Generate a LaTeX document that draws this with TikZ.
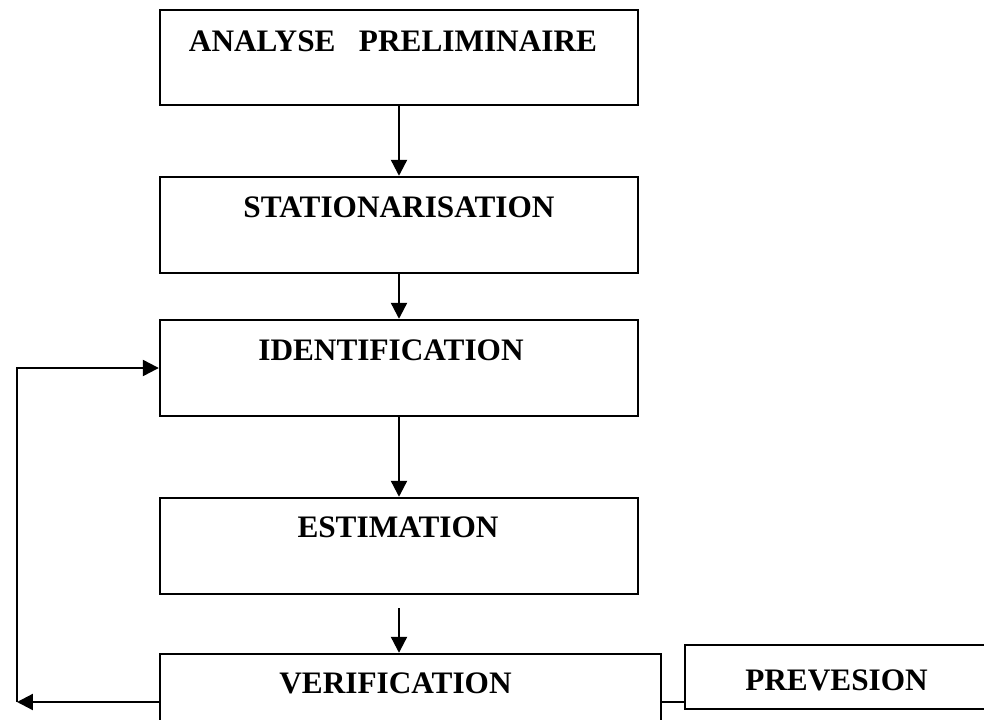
\documentclass[tikz,border=0pt]{standalone}
\usepackage{fontspec}
\setmainfont{Liberation Serif}
\usetikzlibrary{arrows.meta,calc}

\begin{document}
\begin{tikzpicture}[x=0.02cm,y=-0.02cm,
	etape/.style={draw=black, line width=1.4pt, rectangle, inner sep=0pt, minimum width=9.56cm, minimum height=1.92cm},
	titre/.style={anchor=base, inner sep=0pt, font=\fontsize{17.8}{20}\selectfont\bfseries},
	fleche/.style={line width=1.3pt, -{Triangle[length=0.32cm,width=0.32cm]}},
	trait/.style={line width=1.3pt}]
	\useasboundingbox (0,0) rectangle (984,720);
	\clip (0,0) rectangle (984,720);
	
	%blocks
	\node[etape, minimum height=1.9cm] (b1) at (399,57.5) {};
	\node[etape] (b2) at (399,225) {};
	\node[etape] (b3) at (399,368) {};
	\node[etape] (b4) at (399,546) {};
	\node[etape, minimum width=10.02cm] (b5) at (410.5,702) {};
	\node[etape, minimum width=6.3cm, minimum height=1.28cm] (b6) at (842.5,677) {};
	
	%labels
	\node[titre] (t1) at ($(b1.north)+(-6,43)$) {ANALYSE\ \ \ PRELIMINAIRE};
	\node[titre] (t2) at ($(b2.north)+(0,42)$) {STATIONARISATION};
	\node[titre] (t3) at ($(b3.north)+(-8,42)$) {IDENTIFICATION};
	\node[titre] (t4) at ($(b4.north)+(-1,41)$) {ESTIMATION};
	\node[titre] (t5) at ($(b5.north)+(-15,41)$) {VERIFICATION};
	\node[titre] (t6) at ($(b6.north)+(-6,47)$) {PREVESION};
	
	%arrows
	\draw[fleche] (b1) -- (b2);
	\draw[fleche] (b2) -- (b3);
	\draw[fleche] (b3) -- (b4);
	\coordinate (c4) at ($(b4.south)+(0,13)$);
	\draw[fleche] (c4) -- (c4 |- b5.north);
	\draw[trait] (b5.east) -- (b5.east -| b6.west);
	
	%loop back
	\coordinate (r1) at (17,702);
	\draw[fleche] (b5.west) -- (r1);
	\draw[fleche] (r1) |- (b3.west);
\end{tikzpicture}
\end{document}
